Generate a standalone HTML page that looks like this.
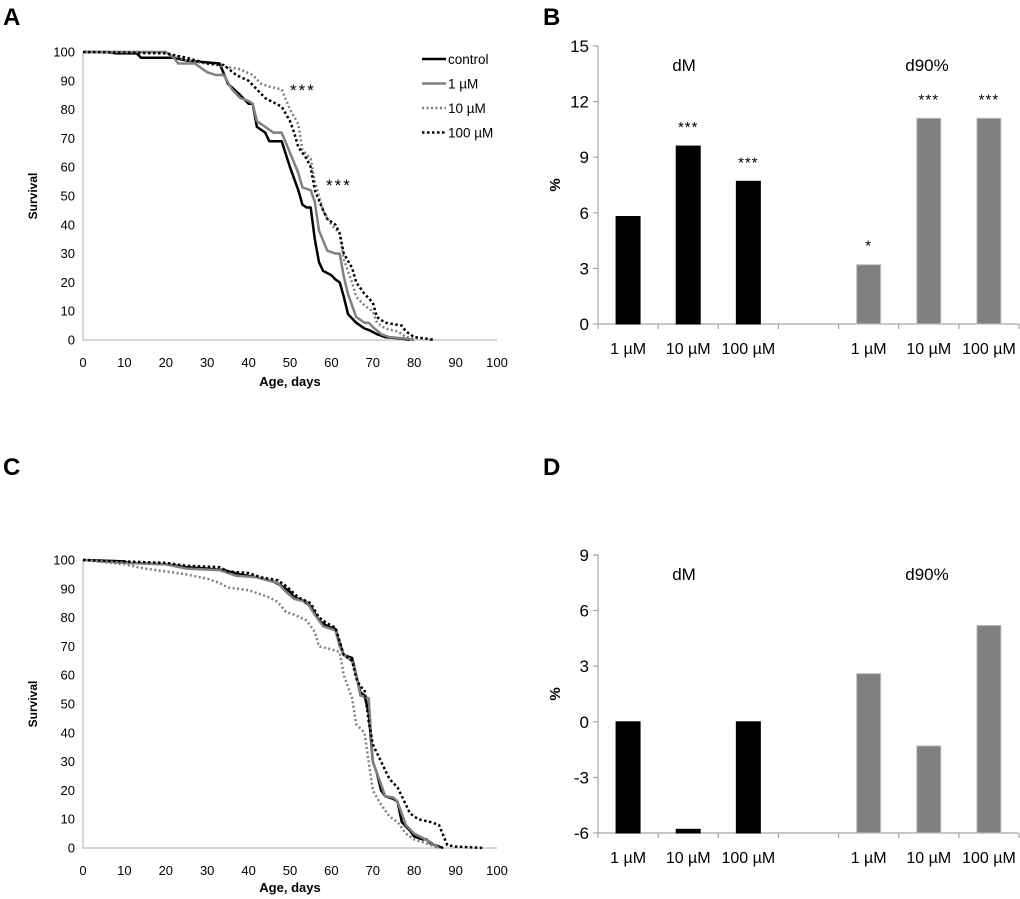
<!DOCTYPE html>
<html><head><meta charset="utf-8"><style>
html,body{margin:0;padding:0;background:#fff;}
svg{display:block;font-family:"Liberation Sans",Arial,sans-serif;}
</style></head><body>
<svg id="fig" width="1020" height="899" viewBox="0 0 1020 899">
<text x="3" y="25" font-size="24" font-weight="bold">A</text>
<text x="543" y="25" font-size="24" font-weight="bold">B</text>
<text x="3" y="475" font-size="24" font-weight="bold">C</text>
<text x="543" y="475" font-size="24" font-weight="bold">D</text>
</svg>
<script>
// ---- data ----
const xTicks=[0,10,20,30,40,50,60,70,80,90,100];
const yTicksSurv=[0,10,20,30,40,50,60,70,80,90,100];
const seriesNames=['control','1 µM','10 µM','100 µM'];
const aControl=[[0,100],[6,100],[8,99.5],[13,99.5],[14,98],[22,98],[25,97],[33,96],[35,89],[38,85],[40,82],[41,82],[42,74],[44,72],[45,69],[48,69],[50,60],[52,52],[53,47],[54,46],[55,46],[56,35],[57,27],[58,24],[60,22.5],[61,21],[62,20],[63,15],[64,9],[66,6],[68,4],[69,3.5],[71,2],[73,1],[77,0.5],[79,0]];
const a1=[[0,100],[20,100],[22,98],[23,96],[27,96],[30,93],[32,92],[34,92],[36,87],[38,84],[40,83],[41,82],[42,76],[44,74],[46,72],[48,72],[50,65],[52,58],[53,53],[55,52],[56,48],[57,38],[59,31],[61,30],[62,30],[63,22],[64,16],[65,12],[66,8],[68,6],[69,6],[70,4.5],[72,2],[74,1],[78,0.5],[80,0]];
const a10=[[0,100],[20,100],[25,97],[30,96],[34,95],[38,94],[41,92],[43,89],[45,88],[48,87],[50,80],[52,75],[53,66],[55,63],[56,55],[58,45],[60,40],[62,37],[63,28],[65,20],[66,15],[68,12],[70,10],[71,6],[73,4],[76,3],[78,1],[82,0.5],[84,0]];
const a100=[[0,100],[20,99.5],[25,98],[30,96],[34,95.5],[37,92],[40,90],[42,87],[44,84],[48,81],[50,76],[51,72],[52,67],[54,63],[55,60],[56,52],[58,45],[59,42],[61,40],[62,37],[63,30],[65,25],[66,20],[68,16],[70,13],[71,8],[73,6],[77,5],[78,3],[80,1],[83,0.5],[85,0]];
const cControl=[[0,100],[10,99.5],[11,99],[20,98.5],[25,97.5],[30,97],[34,96.5],[38,95],[42,94],[46,92.5],[48,91],[50,89],[51,87],[53,86],[55,84],[57,79],[59,77],[61,76],[62,71],[63,67],[65,66],[66,60],[67,54],[68,53],[69,47],[70,30],[71,26],[72,20],[73,18],[75,17],[76,16],[77,9],[79,6],[80,4],[82,3],[83,3],[84,1.5],[86,0.5],[87,0]];
const c1=[[0,100],[10,99],[20,98.5],[25,97],[33,96.5],[37,94.5],[42,94],[47,92],[49,89],[51,86.5],[54,85.5],[56,81],[58,77],[61,75.5],[62,70],[63,67],[65,65],[66,60],[67,53],[69,52],[70,30],[72,22],[73,18],[75,17.5],[76,16],[78,8],[80,5],[82,3.5],[84,2],[85,1],[86,0]];
const c10=[[0,100],[10,98.5],[15,97],[20,96],[25,95],[30,93.5],[33,92],[35,90.5],[40,89.5],[45,87],[47,85.5],[49,82],[51,81],[54,79],[56,75],[57,70],[60,69],[62,68],[63,60],[65,52],[66,43],[68,40],[69,30],[70,20],[72,15],[74,11],[76,9],[78,5],[80,3],[82,2],[84,1],[86,0]];
const c100=[[0,100],[20,99],[25,98],[33,97.5],[35,96],[40,95.5],[43,94],[47,93],[49,91],[52,87],[55,85],[57,80],[59,78],[61,76.5],[63,67],[65,65],[66,59],[67,56],[68,55],[69,44],[70,36],[72,30],[74,24],[76,21],[77,18],[79,12],[81,10],[84,9],[86,8],[88,1],[90,0.5],[97,0]];
const barCats=['1 µM','10 µM','100 µM','','1 µM','10 µM','100 µM'];
const bValues=[5.8,9.6,7.7,null,3.2,11.1,11.1];
const bStars=['','***','***','','*','***','***'];
const bTicks=[0,3,6,9,12,15];
const dValues=[0,-5.8,0,null,2.6,-1.3,5.2];
const dTicks=[-6,-3,0,3,6,9];
const barColors=['#000','#000','#000','','#808080','#808080','#808080'];

const svg=document.getElementById('fig');
const NS='http://www.w3.org/2000/svg';
function el(tag,attrs,parent){const e=document.createElementNS(NS,tag);for(const k in attrs)e.setAttribute(k,attrs[k]);(parent||svg).appendChild(e);return e;}
function txt(x,y,s,size,anchor,parent,extra){const t=el('text',Object.assign({x:x,y:y,'font-size':size,'text-anchor':anchor||'middle',fill:'#000'},extra||{}),parent);t.textContent=s;return t;}

function survival(id,top,bottom,data,titleY,stars){
  const g=el('g',{});
  
  
  const x0=83,x1=497;
  const sx=v=>x0+(x1-x0)*v/100, sy=v=>bottom-(bottom-top)*v/100;
  const ax=el('path',{d:`M${x0},${top} V${bottom} H${x1}`,stroke:'#bfbfbf','stroke-width':1.2,fill:'none'},g);
  
  
  yTicksSurv.forEach(v=>{const t=txt(x0-8,sy(v)+4.5,String(v),13,'end',g);});
  xTicks.forEach(v=>{const t=txt(sx(v),bottom+27,String(v),13,'middle',g);});
  const yt=txt(0,0,'Survival',12,'middle',g,{'font-weight':'bold',transform:`translate(37,${(top+bottom)/2}) rotate(-90)`});
  
  const xt=txt(290,titleY,'Age, days',13,'middle',g,{'font-weight':'bold'});
  
  const styles=[{stroke:'#000',da:''},{stroke:'#808080',da:''},{stroke:'#808080',da:'2,2.5'},{stroke:'#000',da:'2.5,2.5'}];
  data.forEach((s,i)=>{
    const d=s.map((p,j)=>(j?'L':'M')+sx(p[0]).toFixed(1)+','+sy(p[1]).toFixed(1)).join(' ');
    const p=el('path',{d:d,fill:'none',stroke:styles[i].stroke,'stroke-width':2.5,'stroke-dasharray':styles[i].da,'stroke-linejoin':'round'},g);
    
    
  });
  if(stars){
    stars.forEach(s=>{const t=txt(s[0],s[1],'***',17,'start',g,{'letter-spacing':'2'});});
    const lg=el('g',{},g);
    
    
    seriesNames.forEach((n,i)=>{
      const y=59+i*24.5;
      el('line',{x1:422,x2:446,y1:y,y2:y,stroke:styles[i].stroke,'stroke-width':2.5,'stroke-dasharray':styles[i].da},lg);
      const t=txt(448,y+5,n,13.5,'start',lg);
      
    });
  }
}
survival('a',52,340,[aControl,a1,a10,a100],386,[[290,96],[326,191]]);
survival('c',560,848,[cControl,c1,c10,c100],892,null);

function bars(id,top,bottom,ticks,vals,stars){
  const g=el('g',{});
  
  
  const x0=598,x1=1019,n=barCats.length,w=(x1-x0)/n;
  const mn=ticks[0],mx=ticks[ticks.length-1];
  const sy=v=>bottom-(bottom-top)*(v-mn)/(mx-mn);
  const ax=el('path',{d:`M${x0-4},${top} H${x0} V${bottom} H${x1}`,stroke:'#a6a6a6','stroke-width':1.2,fill:'none'},g);
  
  ticks.forEach(v=>{
    el('line',{x1:x0-5,x2:x0,y1:sy(v),y2:sy(v),stroke:'#a6a6a6','stroke-width':1.2},g);
    const t=txt(x0-9,sy(v)+6,String(v),17,'end',g);
  });
  for(let i=0;i<=n;i++)el('line',{x1:x0+i*w,x2:x0+i*w,y1:bottom,y2:bottom+5,stroke:'#a6a6a6','stroke-width':1.2},g);
  vals.forEach((v,i)=>{
    const cx=x0+w*(i+0.5);
    if(barCats[i]){const t=txt(cx,bottom+30,barCats[i],16,'middle',g);}
    if(v===null)return;
    const y=sy(v);
    const r=el('rect',{x:cx-12,y:y,width:24,height:Math.max(bottom-y,1.5),fill:barColors[i],stroke:i>3?'#bfbfbf':'#000','stroke-width':1},g);
    
    
    if(stars&&stars[i]){const t=txt(cx,y-14,stars[i],15,'middle',g,{'letter-spacing':'1'});}
  });
  const yt=txt(0,0,'%',15,'middle',g,{'font-weight':'bold',transform:`translate(560,${(top+bottom)/2}) rotate(-90)`});
  
  const g1=txt(684,top+25,'dM',17,'middle',g);
  const g2=txt(927,top+25,'d90%',17,'middle',g);
}
bars('b',46,324,bTicks,bValues,bStars);
bars('d',555,833,dTicks,dValues,null);
</script>
</body></html>
